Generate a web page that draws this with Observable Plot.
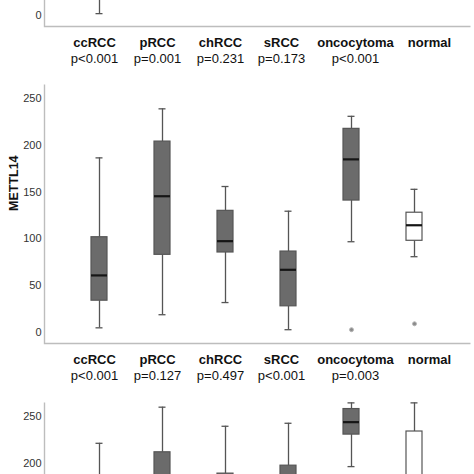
<!DOCTYPE html>
<html>
<head>
<meta charset="utf-8">
<script src="https://cdn.jsdelivr.net/npm/d3@7"></script>
<script src="https://cdn.jsdelivr.net/npm/@observablehq/plot@0.6"></script>
<style>
  html, body { margin: 0; padding: 0; background: #fff; }
  #wrap { position: relative; width: 474px; height: 474px; overflow: hidden; background: #fff; }
  #wrap > div { position: absolute; left: 0; }
  #top { top: -242px; }
  #mid { top: 75px; }
  #bot { top: 393px; }
</style>
</head>
<body>
<div id="wrap">
  <div id="top"></div>
  <div id="mid"></div>
  <div id="bot"></div>
</div>
<script>
// ---------- data ----------
const categories = ["ccRCC", "pRCC", "chRCC", "sRCC", "oncocytoma", "normal"];

// upper (partially visible) panel: only its bottom edge is visible
const topTicks = [0];
const topPvals = ["p<0.001", "p=0.001", "p=0.231", "p=0.173", "p<0.001", ""];
const topLow  = [2, null, null, null, null, null];

// METTL14 panel
const midTicks = [0, 50, 100, 150, 200, 250];
const midPvals = ["p<0.001", "p=0.127", "p=0.497", "p<0.001", "p=0.003", ""];
const m14Low  = [5, 19, 32, 3, 97, 81];
const m14Q1   = [34, 83, 85.5, 28, 141, 98];
const m14Med  = [61, 145.6, 97.6, 67, 185, 114.6];
const m14Q3   = [101.8, 204, 130, 86.5, 217.6, 128];
const m14High = [186.6, 239, 156, 129.6, 231, 153];
const m14OutCats = ["oncocytoma", "normal"];
const m14OutVals = [3, 9.3];

// lower (partially visible) panel: only its upper parts are visible
const botTicks = [200, 250];
const botHigh = [221.4, 260, 239.6, 242.8, 264.6, 264.6];
const botQ3   = [null, 211.8, 189, 197.5, 258, 234];
const botMed  = [null, null, null, null, 244, null];
const botQ1   = [null, null, null, null, 230.7, null];
const botLow  = [null, null, null, null, 196.5, null];

// ---------- layout / style ----------
const W = 474, ML = 44, MR = 4, MT = 9, PH = 259, MB = 47;
const YDOM = [-11.75, 265];
const labelShift = [-5, -5, -5, -7, 4, 15];
const boxFill = "#6b6b6b", lineCol = "#555", axisCol = "#bdbdbd";
const font = "'Liberation Sans', Arial, Helvetica, sans-serif";

function panel({ticks, low, q1 = [], med = [], q3 = [], high = [], outCats = [], outVals = [], pvals = null, ylabel = null}) {
  const rows = categories.map((c, i) => ({
    c, low: low[i] ?? null, q1: q1[i] ?? null, med: med[i] ?? null,
    q3: q3[i] ?? null, high: high[i] ?? null, white: c === "normal"
  }));
  const base = YDOM[0], topv = YDOM[1];
  const fw = W - ML - MR;
  const outliers = outCats.map((c, i) => ({c, v: outVals[i]}));
  const marks = [
    Plot.frame({stroke: axisCol, strokeWidth: 1.4, fill: "none",
      strokeDasharray: `0 ${fw + PH} ${fw + PH}`}),
    Plot.axisY({ticks, tickSize: 0, tickPadding: 3, fontSize: 11, fill: "#333", label: null}),
    Plot.ruleX(rows.filter(d => d.low != null), {
      x: "c", y1: "low", y2: d => d.q1 ?? d.med ?? topv, stroke: lineCol, strokeWidth: 1.3}),
    Plot.ruleX(rows.filter(d => d.high != null), {
      x: "c", y1: d => d.q3 ?? d.med ?? base, y2: "high", stroke: lineCol, strokeWidth: 1.3}),
    Plot.barY(rows.filter(d => d.q3 != null || d.q1 != null), {
      x: "c", y1: d => d.q1 ?? base, y2: d => d.q3 ?? topv,
      fill: d => d.white ? "#ffffff" : boxFill, stroke: lineCol, strokeWidth: 1.2}),
    Plot.tickY(rows.filter(d => d.med != null), {
      x: "c", y: "med", stroke: "#151515", strokeWidth: 2.2}),
    Plot.tickY(rows.filter(d => d.low != null), {
      x: "c", y: "low", insetLeft: 4.5, insetRight: 4.5, stroke: lineCol, strokeWidth: 1.3}),
    Plot.tickY(rows.filter(d => d.high != null), {
      x: "c", y: "high", insetLeft: 4.5, insetRight: 4.5, stroke: lineCol, strokeWidth: 1.3}),
    Plot.dot(outliers, {x: "c", y: "v", r: 2, fill: "#8a8a8a", stroke: "#b5b5b5", strokeWidth: 1})
  ];
  if (pvals) {
    categories.forEach((c, i) => {
      marks.push(Plot.text([c], {x: d => d, text: d => d, frameAnchor: "bottom", dy: 20,
        dx: labelShift[i], fontSize: 13, fontWeight: "bold", fill: "#111"}));
      if (pvals[i]) marks.push(Plot.text([c], {x: d => d, text: () => pvals[i], frameAnchor: "bottom", dy: 36,
        dx: labelShift[i], fontSize: 13, fill: "#111"}));
    });
  }
  if (ylabel) {
    marks.push(Plot.text([ylabel], {text: d => d, frameAnchor: "left", rotate: -90, dx: -31, dy: -3,
      fontSize: 12.5, fontWeight: "bold", fill: "#111"}));
  }
  return Plot.plot({
    width: W, height: MT + PH + MB,
    marginLeft: ML, marginRight: MR, marginTop: MT, marginBottom: MB,
    style: {fontFamily: font, background: "transparent", overflow: "visible"},
    x: {type: "band", domain: categories, range: [98 - 31.7, 415 + 31.7],
        paddingInner: 0.75, paddingOuter: 0.375, axis: null},
    y: {domain: YDOM, axis: null},
    color: {type: "identity"},
    marks
  });
}

document.getElementById("top").append(panel({ticks: topTicks, low: topLow, pvals: topPvals}));
document.getElementById("mid").append(panel({ticks: midTicks,
  low: m14Low, q1: m14Q1, med: m14Med, q3: m14Q3, high: m14High,
  outCats: m14OutCats, outVals: m14OutVals, pvals: midPvals, ylabel: "METTL14"}));
document.getElementById("bot").append(panel({ticks: botTicks,
  low: botLow, q1: botQ1, med: botMed, q3: botQ3, high: botHigh}));
</script>
</body>
</html>
